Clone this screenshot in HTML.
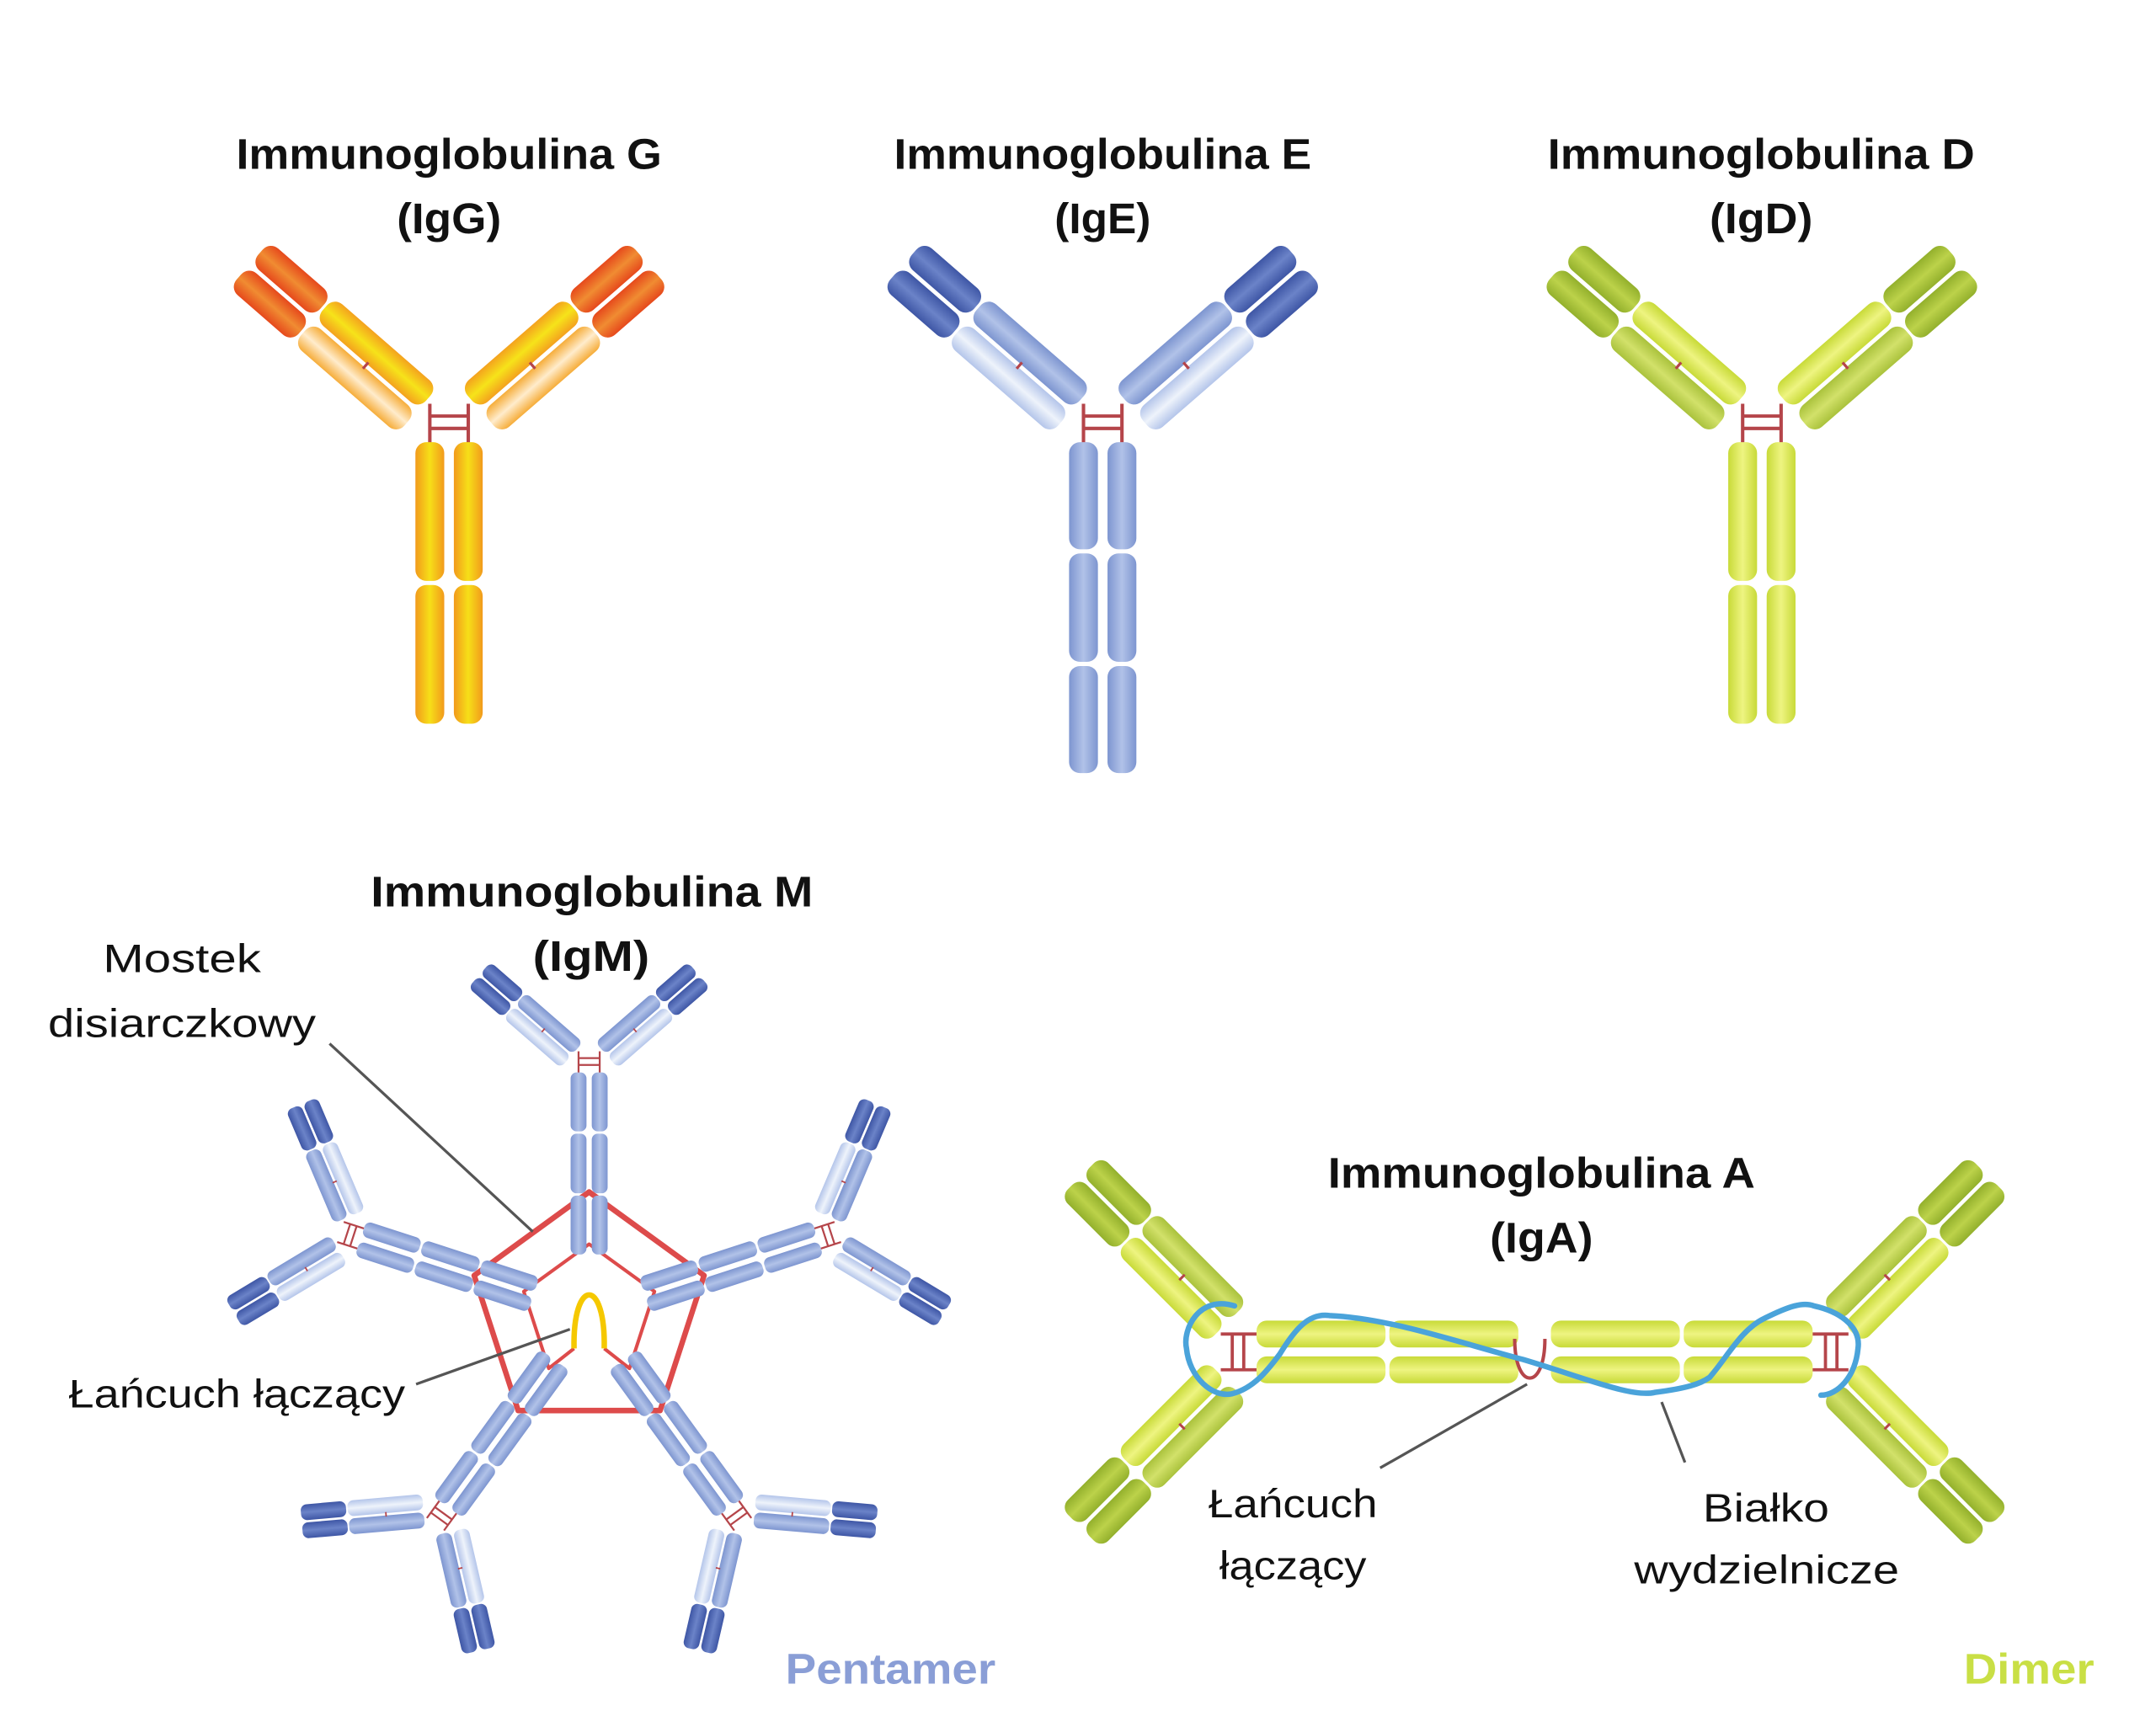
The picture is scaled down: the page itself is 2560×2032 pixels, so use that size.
<!DOCTYPE html>
<html><head><meta charset="utf-8"><style>html,body{margin:0;padding:0;background:#fff}svg{display:block}</style></head>
<body>
<svg xmlns="http://www.w3.org/2000/svg" xmlns:xlink="http://www.w3.org/1999/xlink" width="2560" height="2032" viewBox="0 0 1570 1246" preserveAspectRatio="none">
<defs>
<linearGradient id="gS" x1="0" y1="0" x2="1" y2="0"><stop offset="0" stop-color="#f29a1c"/><stop offset="0.5" stop-color="#f6df18"/><stop offset="1" stop-color="#f29a1c"/></linearGradient>
<linearGradient id="gH" x1="0" y1="0" x2="0" y2="1"><stop offset="0" stop-color="#f4a21e"/><stop offset="0.5" stop-color="#f6e31a"/><stop offset="1" stop-color="#f4a21e"/></linearGradient>
<linearGradient id="gV" x1="0" y1="0" x2="0" y2="1"><stop offset="0" stop-color="#e6491c"/><stop offset="0.5" stop-color="#f08c32"/><stop offset="1" stop-color="#e6491c"/></linearGradient>
<linearGradient id="gL" x1="0" y1="0" x2="0" y2="1"><stop offset="0" stop-color="#f6ad3a"/><stop offset="0.5" stop-color="#ffeccc"/><stop offset="1" stop-color="#f6ad3a"/></linearGradient>
<linearGradient id="eS" x1="0" y1="0" x2="1" y2="0"><stop offset="0" stop-color="#7d95d0"/><stop offset="0.5" stop-color="#b1c2e8"/><stop offset="1" stop-color="#7d95d0"/></linearGradient>
<linearGradient id="eH" x1="0" y1="0" x2="0" y2="1"><stop offset="0" stop-color="#7d95d0"/><stop offset="0.5" stop-color="#b1c2e8"/><stop offset="1" stop-color="#7d95d0"/></linearGradient>
<linearGradient id="eV" x1="0" y1="0" x2="0" y2="1"><stop offset="0" stop-color="#3e56a5"/><stop offset="0.5" stop-color="#6b83c8"/><stop offset="1" stop-color="#3e56a5"/></linearGradient>
<linearGradient id="eL" x1="0" y1="0" x2="0" y2="1"><stop offset="0" stop-color="#b4c5ea"/><stop offset="0.5" stop-color="#eef3fb"/><stop offset="1" stop-color="#b4c5ea"/></linearGradient>
<linearGradient id="dS" x1="0" y1="0" x2="1" y2="0"><stop offset="0" stop-color="#c8da38"/><stop offset="0.5" stop-color="#eef481"/><stop offset="1" stop-color="#c8da38"/></linearGradient>
<linearGradient id="dH" x1="0" y1="0" x2="0" y2="1"><stop offset="0" stop-color="#c8da38"/><stop offset="0.5" stop-color="#eef481"/><stop offset="1" stop-color="#c8da38"/></linearGradient>
<linearGradient id="dV" x1="0" y1="0" x2="0" y2="1"><stop offset="0" stop-color="#93b02c"/><stop offset="0.5" stop-color="#bcd24a"/><stop offset="1" stop-color="#93b02c"/></linearGradient>
<linearGradient id="dL" x1="0" y1="0" x2="0" y2="1"><stop offset="0" stop-color="#aac23c"/><stop offset="0.5" stop-color="#d2e16a"/><stop offset="1" stop-color="#aac23c"/></linearGradient>

<g id="armG">
 <rect x="0" y="1.5" width="100" height="21" rx="8" fill="url(#gH)"/>
 <rect x="102" y="1.5" width="60" height="21" rx="8" fill="url(#gV)"/>
 <rect x="0" y="-22.5" width="100" height="21" rx="8" fill="url(#gL)"/>
 <rect x="102" y="-22.5" width="60" height="21" rx="8" fill="url(#gV)"/>
 <line x1="50" y1="-3" x2="50" y2="3" stroke="#b5454a" stroke-width="2"/>
</g>
<g id="armE">
 <rect x="0" y="1.5" width="100" height="21" rx="8" fill="url(#eH)"/>
 <rect x="102" y="1.5" width="60" height="21" rx="8" fill="url(#eV)"/>
 <rect x="0" y="-22.5" width="100" height="21" rx="8" fill="url(#eL)"/>
 <rect x="102" y="-22.5" width="60" height="21" rx="8" fill="url(#eV)"/>
 <line x1="50" y1="-3" x2="50" y2="3" stroke="#b5454a" stroke-width="2"/>
</g>
<g id="armD">
 <rect x="0" y="1.5" width="100" height="21" rx="8" fill="url(#dH)"/>
 <rect x="102" y="1.5" width="60" height="21" rx="8" fill="url(#dV)"/>
 <rect x="0" y="-22.5" width="100" height="21" rx="8" fill="url(#dL)"/>
 <rect x="102" y="-22.5" width="60" height="21" rx="8" fill="url(#dV)"/>
 <line x1="50" y1="-3" x2="50" y2="3" stroke="#b5454a" stroke-width="2"/>
</g>
<g id="hinge" stroke="#b5454a" stroke-width="2.5" fill="none">
 <line x1="-14" y1="-28" x2="-14" y2="1"/><line x1="14" y1="-28" x2="14" y2="1"/>
 <line x1="-14" y1="-19" x2="14" y2="-19"/><line x1="-14" y1="-10" x2="14" y2="-10"/>
</g>
<g id="abG">
 <use xlink:href="#hinge"/>
 <use xlink:href="#armG" transform="translate(-23,-23) rotate(221)"/>
 <g transform="scale(-1,1)"><use xlink:href="#armG" transform="translate(-23,-23) rotate(221)"/></g>
 <rect x="-24.5" y="0" width="21" height="101" rx="8" fill="url(#gS)"/>
 <rect x="-24.5" y="104" width="21" height="101" rx="8" fill="url(#gS)"/>
 <rect x="3.5" y="0" width="21" height="101" rx="8" fill="url(#gS)"/>
 <rect x="3.5" y="104" width="21" height="101" rx="8" fill="url(#gS)"/>
</g>
<g id="abD">
 <use xlink:href="#hinge"/>
 <use xlink:href="#armD" transform="translate(-23,-23) rotate(221)"/>
 <g transform="scale(-1,1)"><use xlink:href="#armD" transform="translate(-23,-23) rotate(221)"/></g>
 <rect x="-24.5" y="0" width="21" height="101" rx="8" fill="url(#dS)"/>
 <rect x="-24.5" y="104" width="21" height="101" rx="8" fill="url(#dS)"/>
 <rect x="3.5" y="0" width="21" height="101" rx="8" fill="url(#dS)"/>
 <rect x="3.5" y="104" width="21" height="101" rx="8" fill="url(#dS)"/>
</g>
<g id="abA">
 <use xlink:href="#hinge"/>
 <use xlink:href="#armD" transform="translate(-23,-23) rotate(225)"/>
 <g transform="scale(-1,1)"><use xlink:href="#armD" transform="translate(-23,-23) rotate(225)"/></g>
 <rect x="-24.5" y="0" width="21" height="101" rx="8" fill="url(#dS)"/>
 <rect x="-24.5" y="104" width="21" height="101" rx="8" fill="url(#dS)"/>
 <rect x="3.5" y="0" width="21" height="101" rx="8" fill="url(#dS)"/>
 <rect x="3.5" y="104" width="21" height="101" rx="8" fill="url(#dS)"/>
</g>
<g id="abE">
 <use xlink:href="#hinge"/>
 <use xlink:href="#armE" transform="translate(-23,-23) rotate(221)"/>
 <g transform="scale(-1,1)"><use xlink:href="#armE" transform="translate(-23,-23) rotate(221)"/></g>
 <rect x="-24.5" y="0" width="21" height="78" rx="8" fill="url(#eS)"/>
 <rect x="-24.5" y="81" width="21" height="79" rx="8" fill="url(#eS)"/>
 <rect x="-24.5" y="163" width="21" height="78" rx="8" fill="url(#eS)"/>
 <rect x="3.5" y="0" width="21" height="78" rx="8" fill="url(#eS)"/>
 <rect x="3.5" y="81" width="21" height="79" rx="8" fill="url(#eS)"/>
 <rect x="3.5" y="163" width="21" height="78" rx="8" fill="url(#eS)"/>
</g>
</defs>

<rect width="1570" height="1246" fill="#fff"/>

<g font-family="'Liberation Sans', sans-serif" font-weight="bold" font-size="31" fill="#111">
 <text x="172" y="123" textLength="310" lengthAdjust="spacingAndGlyphs">Immunoglobulina G</text>
 <text x="289" y="170" textLength="76" lengthAdjust="spacingAndGlyphs">(IgG)</text>
 <text x="651" y="123" textLength="304" lengthAdjust="spacingAndGlyphs">Immunoglobulina E</text>
 <text x="768" y="170" textLength="70" lengthAdjust="spacingAndGlyphs">(IgE)</text>
 <text x="1127" y="123" textLength="311" lengthAdjust="spacingAndGlyphs">Immunoglobulina D</text>
 <text x="1245" y="170" textLength="75" lengthAdjust="spacingAndGlyphs">(IgD)</text>
 <text x="270" y="660" textLength="322" lengthAdjust="spacingAndGlyphs">Immunoglobulina M</text>
 <text x="388" y="707" textLength="85" lengthAdjust="spacingAndGlyphs">(IgM)</text>
 <text x="967" y="865" textLength="311" lengthAdjust="spacingAndGlyphs">Immunoglobulina A</text>
 <text x="1085" y="912" textLength="75" lengthAdjust="spacingAndGlyphs">(IgA)</text>
 <text x="572" y="1226" fill="#8a9ed6" textLength="153" lengthAdjust="spacingAndGlyphs">Pentamer</text>
 <text x="1430" y="1226" fill="#c9df45" textLength="95" lengthAdjust="spacingAndGlyphs">Dimer</text>
</g>

<g font-family="'Liberation Sans', sans-serif" font-size="29" fill="#111">
 <text x="75" y="708" textLength="115" lengthAdjust="spacingAndGlyphs">Mostek</text>
 <text x="35" y="755" textLength="195" lengthAdjust="spacingAndGlyphs">disiarczkowy</text>
 <text x="50" y="1025" textLength="245" lengthAdjust="spacingAndGlyphs">Łańcuch łączący</text>
 <text x="880" y="1105" textLength="123" lengthAdjust="spacingAndGlyphs">Łańcuch</text>
 <text x="888" y="1150" textLength="107" lengthAdjust="spacingAndGlyphs">łączący</text>
 <text x="1240" y="1108" textLength="92" lengthAdjust="spacingAndGlyphs">Białko</text>
 <text x="1190" y="1153" textLength="193" lengthAdjust="spacingAndGlyphs">wydzielnicze</text>
</g>

<use xlink:href="#abG" transform="translate(327,322)"/>
<use xlink:href="#abE" transform="translate(803,322)"/>
<use xlink:href="#abD" transform="translate(1283,322)"/>

<g fill="none" stroke="#dd4b4b" stroke-linejoin="round">
 <polygon points="429,868 512.7,928.8 480.7,1027.2 377.3,1027.2 345.3,928.8" stroke-width="4"/>
 <polyline points="418,982 399.6,996.5 381.4,940.5 429,906 476.6,940.5 458.4,996.5 440,982" stroke-width="2.5"/>
</g>
<use xlink:href="#abE" transform="translate(429,956) rotate(0) translate(0,-175) scale(0.55)"/>
<use xlink:href="#abE" transform="translate(429,956) rotate(72) translate(0,-175) scale(0.55)"/>
<use xlink:href="#abE" transform="translate(429,956) rotate(144) translate(0,-175) scale(0.55)"/>
<use xlink:href="#abE" transform="translate(429,956) rotate(216) translate(0,-175) scale(0.55)"/>
<use xlink:href="#abE" transform="translate(429,956) rotate(288) translate(0,-175) scale(0.55)"/>
<path d="M418,982 C417,930 441,930 440,982" fill="none" stroke="#f5c800" stroke-width="4"/>
<g stroke="#555" stroke-width="2">
 <line x1="240" y1="760" x2="388" y2="897"/>
 <line x1="303" y1="1008" x2="415" y2="968"/>
</g>

<g transform="translate(0,8)">
<use xlink:href="#abA" transform="translate(915,976.5) rotate(-90) scale(0.93)"/>
<use xlink:href="#abA" transform="translate(1320,976.5) rotate(90) scale(0.93)"/>
<path d="M1103,967 C1103,1005 1125,1005 1125,967" fill="none" stroke="#b5454a" stroke-width="2.5"/>
<path d="M899,943 C873,935 861,960 864,974 C866,995 883,1010 897,1007 C913,1003 923,990 932,978 C943,960 953,948 968,950 C1013,952 1063,970 1109,982 C1153,995 1188,1010 1205,1006 C1228,1003 1238,1000 1245,995 C1258,980 1268,960 1285,952 C1303,943 1313,940 1321,943 C1343,948 1355,960 1353,974 C1351,995 1338,1008 1326,1008" fill="none" stroke="#4aa3da" stroke-width="4" stroke-linecap="round"/>
</g>
<g stroke="#555" stroke-width="2">
 <line x1="1005" y1="1069" x2="1112" y2="1008"/>
 <line x1="1227" y1="1065" x2="1210" y2="1021"/>
</g>
</svg>
</body></html>
